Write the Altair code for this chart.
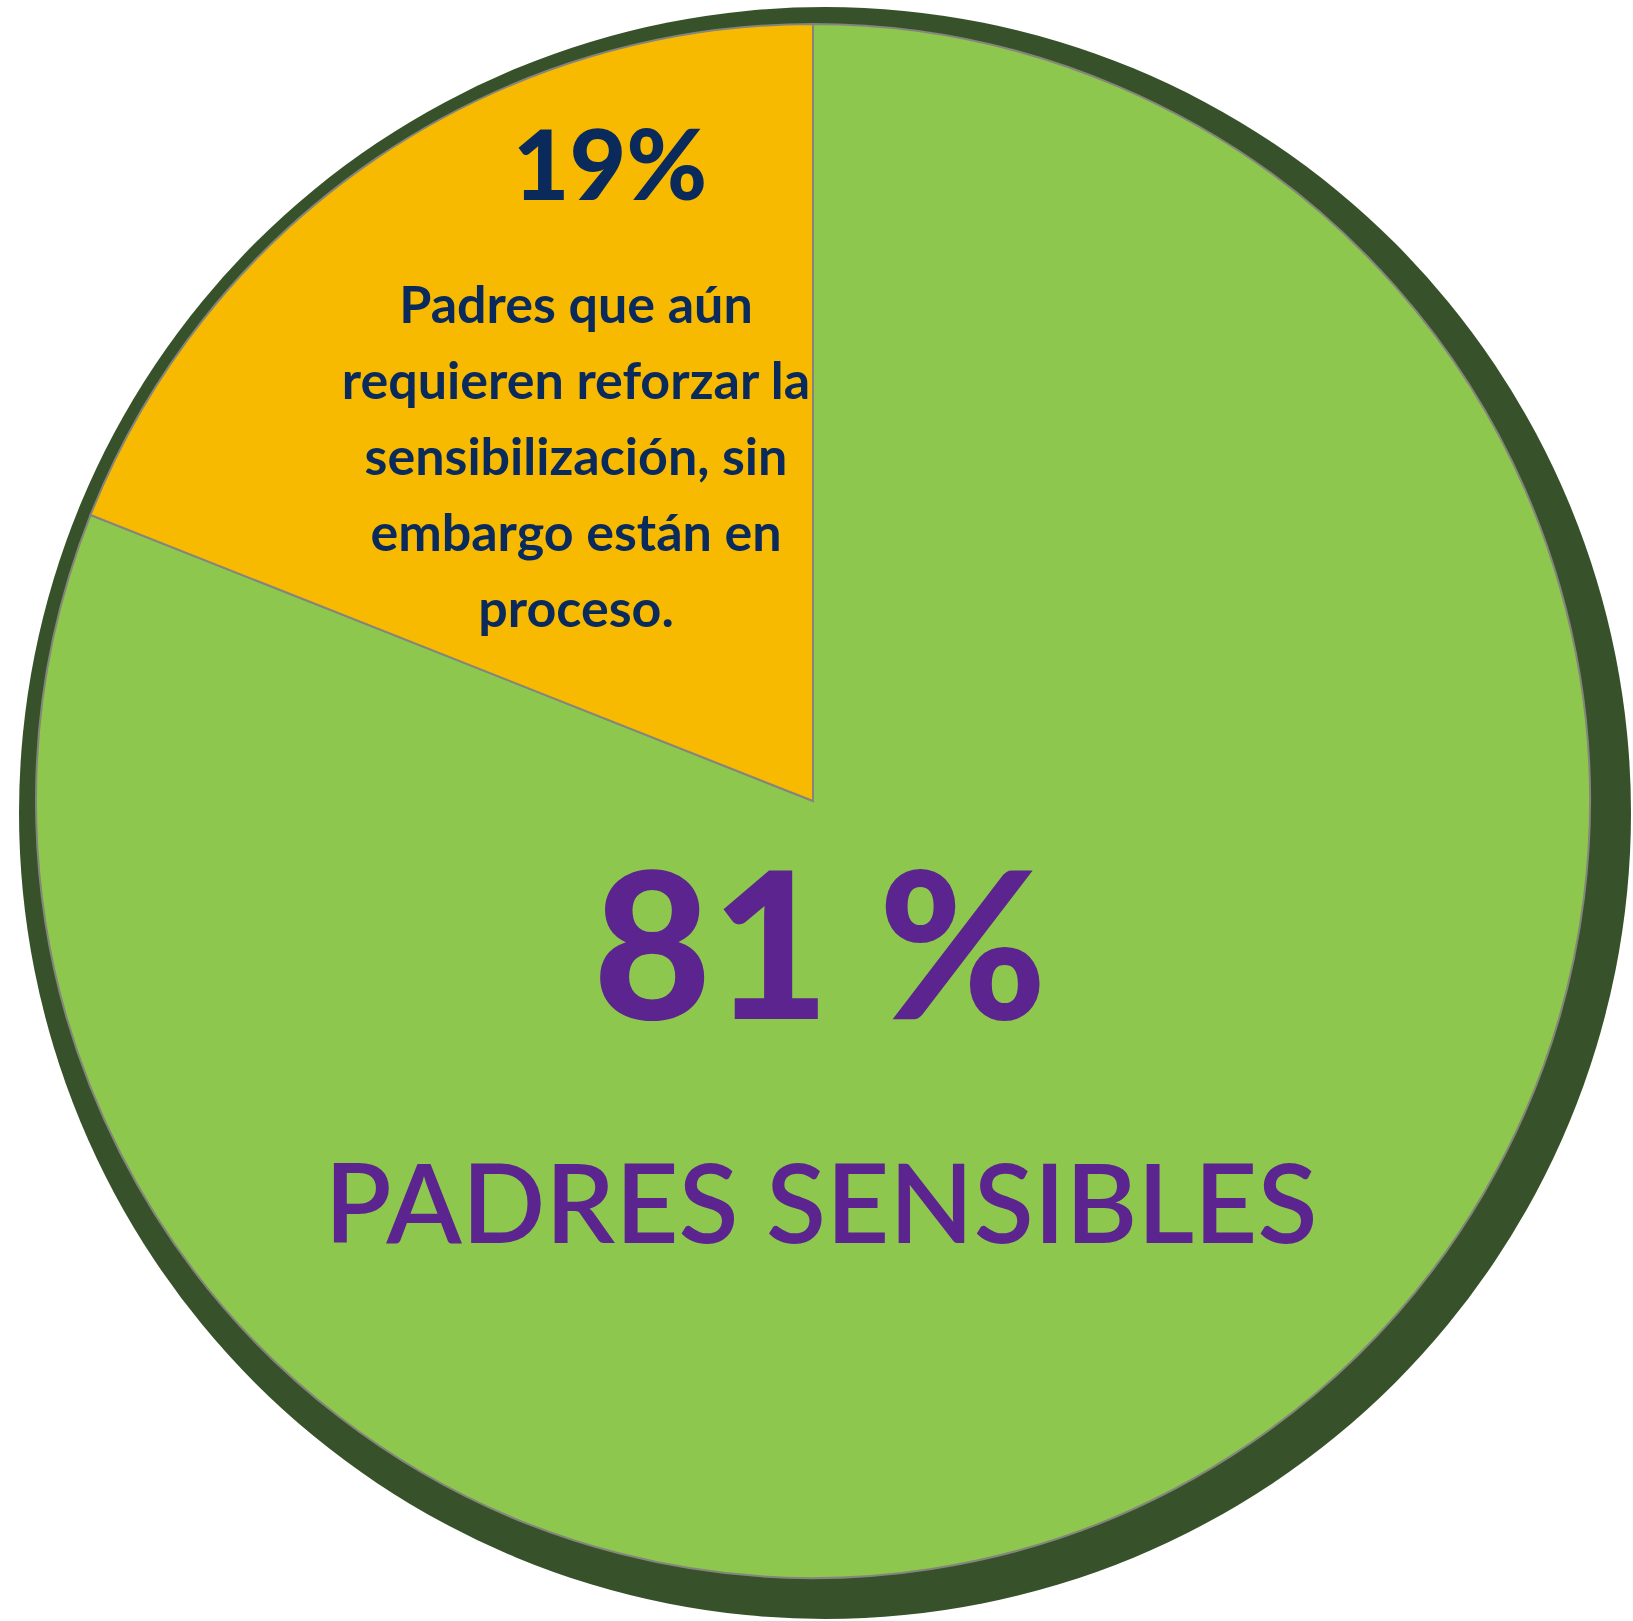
import altair as alt
import pandas as pd

# Data
categorias = ["PADRES SENSIBLES", "Padres que aún requieren reforzar la sensibilización, sin embargo están en proceso."]
porcentajes = [81, 19]
colores = ["#8DC74E", "#F7BA00"]

etiqueta_grande = "81 %"
etiqueta_grande_texto = "PADRES SENSIBLES"
etiqueta_pequena = "19%"
etiqueta_pequena_lineas = [
    "Padres que aún",
    "requieren reforzar la",
    "sensibilización, sin",
    "embargo están en",
    "proceso.",
]

df = pd.DataFrame({"cat": categorias, "valor": porcentajes})
df_ring = pd.DataFrame({"v": [1]})

W, H = 1633, 1621

ring = alt.Chart(df_ring).mark_arc(color="#37522A").encode(
    theta=alt.Theta("v:Q", scale=alt.Scale(domain=[0, 1])),
    x=alt.value(825), y=alt.value(813),
    radius=alt.value(806),
)

pie = alt.Chart(df).transform_calculate(
    orden="datum.cat === 'PADRES SENSIBLES' ? 0 : 1"
).mark_arc(stroke="#85857c", strokeWidth=2).encode(
    theta=alt.Theta("valor:Q", stack=True),
    order=alt.Order("orden:Q"),
    color=alt.Color("cat:N", scale=alt.Scale(domain=categorias, range=colores), legend=None),
    x=alt.value(813), y=alt.value(801),
    radius=alt.value(777),
)

txt19 = alt.Chart(df_ring).mark_text(
    text=etiqueta_pequena, font="Lato", fontWeight=900, fontSize=98,
    color="#0B2A5C", align="center", baseline="middle",
).encode(x=alt.value(610), y=alt.value(171))

txt19b = alt.Chart(df_ring).mark_text(
    text=etiqueta_pequena_lineas, font="Lato", fontWeight=700, fontSize=52,
    lineHeight=76, color="#0B2A5C", align="center", baseline="middle",
).encode(x=alt.value(576), y=alt.value(307))

txt81 = alt.Chart(df_ring).mark_text(
    text=etiqueta_grande, font="Lato", fontWeight=900, fontSize=204,
    color="#5C248F", align="center", baseline="middle",
).encode(x=alt.value(820), y=alt.value(958))

txt81b = alt.Chart(df_ring).mark_text(
    text=etiqueta_grande_texto, font="Lato", fontWeight=600, fontSize=110,
    color="#5C248F", align="center", baseline="middle",
).encode(x=alt.value(821), y=alt.value(1210))

chart = alt.layer(ring, pie, txt19, txt19b, txt81, txt81b).resolve_scale(
    theta="independent"
).properties(
    width=W, height=H, autosize=alt.AutoSizeParams(type="none"), padding=0,
    background="white",
).configure_view(stroke=None)

chart.save("out.html", embed_options={"renderer": "svg", "actions": False})
